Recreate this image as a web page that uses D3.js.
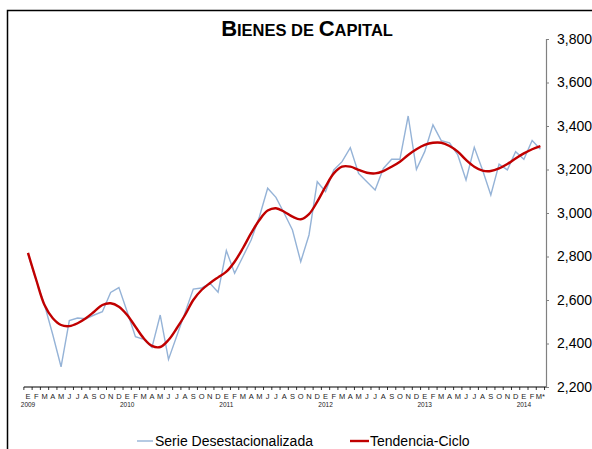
<!DOCTYPE html>
<html>
<head>
<meta charset="utf-8">
<script src="https://cdn.jsdelivr.net/npm/d3@7"></script>
<style>
  body { margin: 0; background: #fff; }
  svg { display: block; font-family: "Liberation Sans", Arial, sans-serif; }
</style>
</head>
<body>
<div class="chart"></div>
<script>
// monthly labels, Jan 2009 - Mar 2014
var months = ["E","F","M","A","M","J","J","A","S","O","N","D"];
var years = ["2009","2010","2011","2012","2013","2014"];

// serie desestacionalizada
var serie = [2810, 2690, 2577, 2440, 2293, 2505, 2517, 2514, 2531, 2546, 2635, 2657,
             2546, 2431, 2419, 2382, 2531, 2327, 2434, 2542, 2650, 2655, 2678, 2636,
             2827, 2723, 2799, 2876, 2983, 3114, 3072, 2999, 2922, 2776, 2899, 3144,
             3098, 3198, 3236, 3300, 3182, 3144, 3106, 3205, 3247, 3247, 3446, 3201,
             3282, 3405, 3333, 3323, 3267, 3152, 3302, 3198, 3083, 3225, 3198, 3282,
             3247, 3333, 3293];

// tendencia-ciclo
var tendencia = [2817, 2692, 2577, 2516, 2485, 2480, 2493, 2516, 2546, 2577, 2585, 2569,
                 2531, 2477, 2424, 2389, 2384, 2416, 2470, 2531, 2600, 2646, 2677, 2704,
                 2730, 2776, 2838, 2907, 2968, 3011, 3022, 3006, 2983, 2971, 2995, 3052,
                 3121, 3182, 3213, 3213, 3198, 3185, 3182, 3193, 3213, 3236, 3267, 3293,
                 3313, 3323, 3323, 3308, 3282, 3244, 3213, 3195, 3193, 3205, 3225, 3251,
                 3274, 3293, 3308];

var yTicks = [2200, 2400, 2600, 2800, 3000, 3200, 3400, 3600, 3800];

var W = 592, H = 449;
var svg = d3.select(".chart").append("svg")
            .attr("width", W).attr("height", H);

// frame (cut off at right and bottom)
svg.append("path")
   .attr("d", "M7.5,449 L7.5,10.5 L592,10.5")
   .attr("fill", "none").attr("stroke", "#000").attr("stroke-width", 1.5);

// title in small caps
var title = svg.append("text")
   .attr("x", 307).attr("y", 36)
   .attr("text-anchor", "middle")
   .attr("font-weight", "bold")
   .attr("fill", "#000");
[["B",22],["IENES DE ",16.5],["C",22],["APITAL",16.5]].forEach(function(p){
  title.append("tspan").attr("font-size", p[1] + "px").text(p[0]);
});

var idx = d3.range(serie.length);
var x = d3.scalePoint()
          .domain(idx)
          .range([28, 540.4]);
var step = x.step();

var y = d3.scaleLinear()
          .domain([2200, 3800])
          .range([387, 39]);

// right axis
var yAxis = svg.append("g")
   .attr("transform", "translate(546,0)")
   .call(d3.axisRight(y).tickValues(yTicks).tickSize(3).tickPadding(8).tickFormat(d3.format(",")));
yAxis.select(".domain").attr("stroke", "#808080").attr("stroke-width", 1.2);
yAxis.selectAll(".tick line").attr("stroke", "#808080");
yAxis.selectAll(".tick text")
     .attr("font-size", "14px").attr("fill", "#000")
     .attr("font-family", "Liberation Sans, Arial, sans-serif");

// bottom axis
var xa = svg.append("g");
xa.append("line")
  .attr("x1", x(0) - step / 2).attr("x2", 546)
  .attr("y1", 387).attr("y2", 387)
  .attr("stroke", "#000").attr("stroke-width", 1);
xa.selectAll("line.tk")
  .data(d3.range(serie.length + 1))
  .enter().append("line")
  .attr("class", "tk")
  .attr("x1", function(d){ return x(0) - step / 2 + d * step; })
  .attr("x2", function(d){ return x(0) - step / 2 + d * step; })
  .attr("y1", 387).attr("y2", 390)
  .attr("stroke", "#000").attr("stroke-width", 0.8);

xa.selectAll("text.mes")
  .data(idx)
  .enter().append("text")
  .attr("class", "mes")
  .attr("x", function(d){ return x(d); })
  .attr("y", 398.5)
  .attr("text-anchor", "middle")
  .attr("font-size", "7.5px")
  .attr("fill", "#222")
  .text(function(d){ return months[d % 12] + (d === serie.length - 1 ? "*" : ""); });

xa.selectAll("text.anio")
  .data(years)
  .enter().append("text")
  .attr("class", "anio")
  .attr("x", function(d, i){ return x(i * 12); })
  .attr("y", 406.5)
  .attr("text-anchor", "middle")
  .attr("font-size", "6.5px")
  .attr("fill", "#222")
  .text(function(d){ return d; });

// lines
var lineSerie = d3.line()
                  .x(function(d, i){ return x(i); })
                  .y(function(d){ return y(d); });
var lineTend = d3.line()
                 .x(function(d, i){ return x(i); })
                 .y(function(d){ return y(d); })
                 .curve(d3.curveCatmullRom.alpha(0.5));

svg.append("path")
   .attr("d", lineSerie(serie))
   .attr("fill", "none")
   .attr("stroke", "#95b3d7")
   .attr("stroke-width", 1.4);

svg.append("path")
   .attr("d", lineTend(tendencia))
   .attr("fill", "none")
   .attr("stroke", "#c00000")
   .attr("stroke-width", 2.4);

// legend
var leg = svg.append("g");
leg.append("line").attr("x1", 137).attr("x2", 153).attr("y1", 441).attr("y2", 441)
   .attr("stroke", "#95b3d7").attr("stroke-width", 1.4);
leg.append("text").attr("x", 155).attr("y", 446).attr("font-size", "14px")
   .attr("fill", "#000").text("Serie Desestacionalizada");
leg.append("line").attr("x1", 350).attr("x2", 369).attr("y1", 441).attr("y2", 441)
   .attr("stroke", "#c00000").attr("stroke-width", 2.4);
leg.append("text").attr("x", 370).attr("y", 446).attr("font-size", "14px")
   .attr("fill", "#000").text("Tendencia-Ciclo");
</script>
</body>
</html>
